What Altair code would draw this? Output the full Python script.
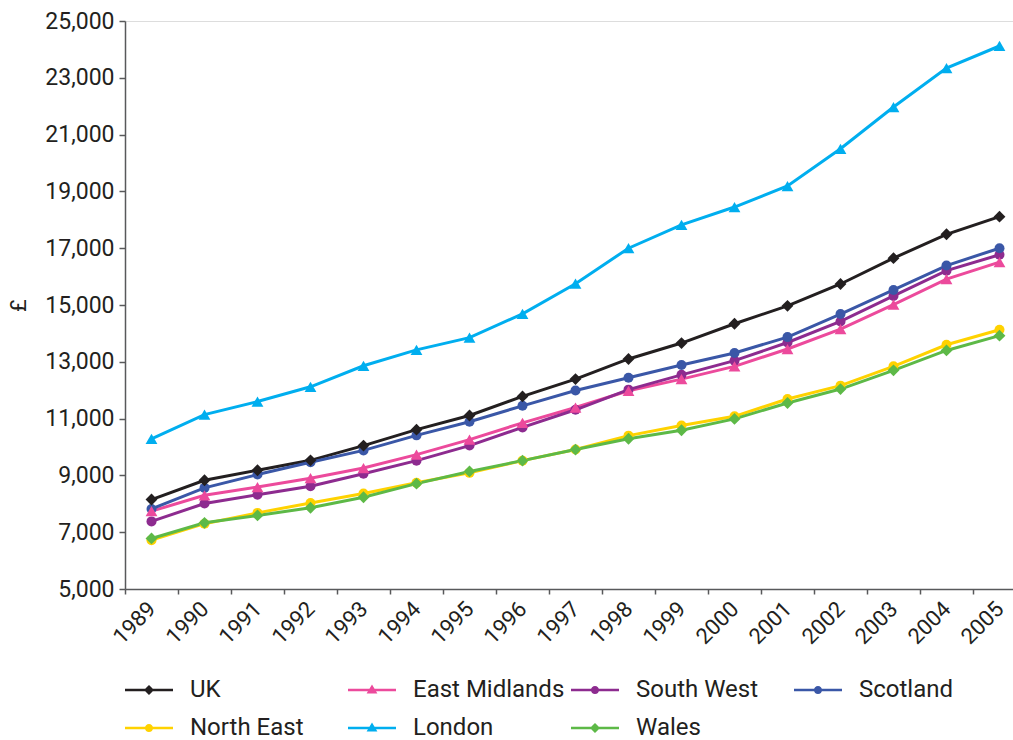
import altair as alt
import pandas as pd

# Average annual earnings by region, 1989-2005 (pounds)
years = list(range(1989, 2006))

regions = ["UK", "East Midlands", "South West", "Scotland", "North East", "London", "Wales"]
colors = ["#231f20", "#ec4a9c", "#8d2b8f", "#3a57a7", "#ffd200", "#00aeef", "#5db947"]
markers = ["diamond", "triangle-up", "circle", "circle", "circle", "triangle-up", "diamond"]

uk = [8150, 8830, 9180, 9530, 10050, 10610, 11110, 11780, 12390, 13100, 13660,
      14340, 14970, 15740, 16650, 17490, 18110]
east_midlands = [7740, 8300, 8590, 8900, 9260, 9730, 10260, 10850, 11390, 11980, 12390,
                 12840, 13450, 14150, 15010, 15910, 16510]
south_west = [7380, 8010, 8320, 8620, 9060, 9520, 10050, 10690, 11310, 12020, 12540,
              13040, 13680, 14420, 15320, 16210, 16770]
scotland = [7820, 8560, 9030, 9460, 9880, 10410, 10890, 11450, 11990, 12440, 12890,
            13310, 13870, 14680, 15530, 16390, 17000]
north_east = [6720, 7300, 7680, 8030, 8360, 8740, 9090, 9520, 9910, 10400, 10760,
              11080, 11690, 12160, 12840, 13600, 14130]
london = [10290, 11140, 11600, 12120, 12860, 13420, 13850, 14690, 15750, 17000, 17820,
          18450, 19190, 20500, 21970, 23340, 24120]
wales = [6780, 7330, 7590, 7860, 8230, 8710, 9140, 9520, 9910, 10290, 10590,
         10990, 11550, 12040, 12700, 13400, 13920]

series = [uk, east_midlands, south_west, scotland, north_east, london, wales]

y_ticks = list(range(5000, 25001, 2000))

# legend glyphs: a short line with the series marker on it (unit = half the symbol box)
stroke_part = "M-2,-0.1 L2,-0.1 L2,0.1 L-2,0.1 Z "
marker_paths = {
    "diamond": "M0,-0.42 L0.42,0 L0,0.42 L-0.42,0 Z",
    "triangle-up": "M0,-0.45 L0.45,0.3 L-0.45,0.3 Z",
    "circle": "M-0.34,0 A0.34,0.34 0 1,1 0.34,0 A0.34,0.34 0 1,1 -0.34,0 Z",
}
legend_glyphs = [stroke_part + marker_paths[m] for m in markers]

rows = []
for name, mk, vals in zip(regions, markers, series):
    for yr, v in zip(years, vals):
        rows.append({"region": name, "marker": mk, "year": yr, "value": v})
df = pd.DataFrame(rows)

INK = "#231f20"
AXIS = "#58595b"
FONT = "Roboto"

x = alt.X(
    "year:O",
    scale=alt.Scale(type="band", paddingInner=0, paddingOuter=0, range=[0, 901]),
    axis=alt.Axis(
        title=None, tickBand="extent", labelAngle=-45, labelAlign="right",
        labelBaseline="middle", labelFont=FONT, labelFontSize=22, labelColor=INK,
        labelOverlap=False, tickSize=5, labelPadding=11, domainColor=AXIS,
        tickColor=AXIS, domainWidth=1.5, tickWidth=1.5, grid=False,
    ),
)
y = alt.Y(
    "value:Q",
    scale=alt.Scale(domain=[5000, 25000], nice=False, zero=False),
    axis=alt.Axis(
        title="£", values=y_ticks, format=",d", tickSize=6, labelPadding=5,
        labelFont=FONT, labelFontSize=23, labelColor=INK, titleFont=FONT,
        titleFontSize=22, titleFontWeight="normal", titleColor=INK, titlePadding=14,
        domainColor=AXIS, tickColor=AXIS, domainWidth=1.5, tickWidth=1.5, grid=False,
    ),
)
color_scale = alt.Scale(domain=regions, range=colors)

base = alt.Chart(df)

lines = base.mark_line(strokeWidth=3).encode(
    x=x, y=y, color=alt.Color("region:N", scale=color_scale, legend=None)
)

marker_layers = []
for mk, size in [("circle", 100), ("triangle-up", 140), ("diamond", 140)]:
    marker_layers.append(
        base.transform_filter(alt.datum.marker == mk)
        .mark_point(filled=True, shape=mk, size=size, opacity=1)
        .encode(x=x, y=y, color=alt.Color("region:N", scale=color_scale, legend=None))
    )

legend = alt.Legend(
    title=None, orient="none", legendX=12, legendY=657, direction="horizontal",
    columns=4, gridAlign="all", columnPadding=6, rowPadding=14, symbolSize=576,
    symbolOpacity=1, symbolStrokeWidth=0, labelFont=FONT, labelFontSize=24,
    labelColor=INK, labelOffset=29,
)
legend_layer = base.mark_point(filled=True, opacity=0).encode(
    x=x, y=y,
    color=alt.Color("region:N", scale=color_scale, legend=legend),
    shape=alt.Shape("region:N", scale=alt.Scale(domain=regions, range=legend_glyphs),
                    legend=legend),
)

chart = (
    alt.layer(lines, *marker_layers, legend_layer)
    .resolve_scale(color="independent", shape="independent")
    .properties(
        width=888, height=568,
        autosize=alt.AutoSizeParams(type="none"),
        padding={"left": 125, "top": 21, "right": 0, "bottom": 151},
        background="white",
    )
    .configure_view(stroke=None)
    .configure(font=FONT)
)

chart.save("out.html", embed_options={"renderer": "svg", "actions": False})
